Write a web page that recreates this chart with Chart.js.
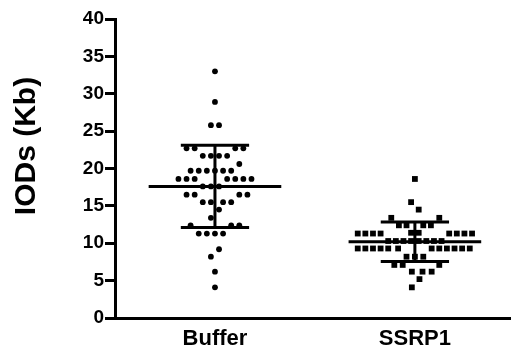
<!DOCTYPE html>
<html>
<head>
<meta charset="utf-8">
<script src="https://cdn.jsdelivr.net/npm/chart.js@4"></script>
<style>
  html, body { margin: 0; padding: 0; background: #fff; }
  #wrap { width: 515px; height: 351px; position: relative; }
</style>
</head>
<body>
<div id="wrap"><canvas id="dotChart"></canvas></div>
<script>
const categories = ["Buffer", "SSRP1"];
const yTicks = [0, 5, 10, 15, 20, 25, 30, 35, 40];

// IOD values, with their horizontal slot in the dot column
const bufferValues = [
  33.0, 28.9, 25.8, 25.8,
  22.7, 22.7, 22.7, 22.7,
  21.7, 21.7, 21.7, 21.7,
  20.6,
  19.7, 19.7, 19.7, 19.7, 19.7, 19.7,
  18.6, 18.6, 18.6, 18.6, 18.6, 18.6, 18.6,
  17.6, 17.6, 17.6,
  16.5, 16.5, 16.5, 16.5,
  15.5, 15.5, 15.5, 15.5,
  14.5, 13.4,
  12.4, 12.4, 12.4,
  11.3, 11.3, 11.3, 11.3,
  9.2, 8.2, 6.2, 4.1
];
const bufferSlots = [
  0, 0, -0.5, 0.5,
  -3.5, -2.5, 2.5, 3.5,
  -1.5, -0.5, 0.5, 1.5,
  3,
  -3, -2, -1, 0, 1, 2,
  -4.5, -3.5, -2.5, 1.5, 2.5, 3.5, 4.5,
  -1.5, -0.5, 0.5,
  -3.5, -2.5, 3, 4,
  -1.5, -0.5, 1, 2,
  0.5, -0.5,
  -3, 2, 3,
  -2, -1, 0, 1,
  0.5, -0.5, 0, 0
];

const ssrpValues = [
  18.6, 15.5, 14.5, 13.4, 13.4,
  12.4, 12.4, 12.4, 12.4,
  11.3, 11.3, 11.3, 11.3, 11.4, 11.4, 11.3, 11.3, 11.3, 11.3,
  10.3, 10.3, 10.3, 10.3, 10.3, 10.3, 10.3, 10.3,
  9.3, 9.3, 9.3, 9.3, 9.3, 9.3, 9.3, 9.3, 9.3, 9.3, 9.3, 9.3,
  8.2, 8.2, 8.2,
  7.1, 7.1, 7.1,
  6.2, 6.2, 6.2,
  5.2, 4.1
];
const ssrpSlots = [
  0, -0.5, 0.5, -3.1, 3.2,
  -2.1, -1.1, 1.1, 2.1,
  -7.5, -6.5, -5.5, -4.5, -0.5, 0.5, 4.5, 5.5, 6.5, 7.5,
  -3.5, -2.5, -1.5, -0.5, 0.5, 1.5, 2.5, 3.5,
  -7.5, -6.5, -5.5, -4.5, -3.5, -2.2, 2.2, 3.2, 4.2, 5.2, 6.2, 7.2,
  -1.1, 0, 1.1,
  -2.7, -1.6, 3.2,
  -0.4, 1, 2.2,
  0.6, -0.4
];

const groupMeans = [17.6, 10.2];
const groupSD = [5.5, 2.63];

// layout (x scale runs in plot pixels)
const X_MAX = 400;
const CENTERS = [101, 303];
const SLOT_W = [8.2, 7.7];
const MEAN_HALF = 67;
const CAP_HALF = 34.5;
const FONT = "'Liberation Sans', Arial, sans-serif";

function dotPoints(values, slots, group) {
  return values.map((v, i) => ({ x: CENTERS[group] + slots[i] * SLOT_W[group], y: v }));
}

function summarySegments() {
  const pts = [];
  groupMeans.forEach((m, g) => {
    const c = CENTERS[g];
    const hi = m + groupSD[g];
    const lo = m - groupSD[g];
    pts.push({ x: c - MEAN_HALF, y: m }, { x: c + MEAN_HALF, y: m }, { x: c, y: null });
    pts.push({ x: c, y: hi }, { x: c, y: lo }, { x: c, y: null });
    pts.push({ x: c - CAP_HALF, y: hi }, { x: c + CAP_HALF, y: hi }, { x: c, y: null });
    pts.push({ x: c - CAP_HALF, y: lo }, { x: c + CAP_HALF, y: lo }, { x: c, y: null });
  });
  return pts;
}

const yTitlePlugin = {
  id: "yTitle",
  afterDraw(chart) {
    const ctx = chart.ctx;
    ctx.save();
    ctx.translate(27, 146);
    ctx.rotate(-Math.PI / 2);
    ctx.fillStyle = "#000";
    ctx.font = "bold 30px " + FONT;
    ctx.textAlign = "center";
    ctx.textBaseline = "middle";
    ctx.fillText("IODs (Kb)", 0, 0);
    ctx.restore();
  }
};

new Chart(document.getElementById("dotChart"), {
  type: "scatter",
  data: {
    datasets: [
      {
        label: categories[0],
        data: dotPoints(bufferValues, bufferSlots, 0),
        pointStyle: "circle",
        pointRadius: 2.9,
        backgroundColor: "#000",
        borderWidth: 0
      },
      {
        label: categories[1],
        data: dotPoints(ssrpValues, ssrpSlots, 1),
        pointStyle: "rect",
        pointRadius: 4.1,
        backgroundColor: "#000",
        borderWidth: 0
      },
      {
        label: "Mean ± SD",
        data: summarySegments(),
        showLine: true,
        spanGaps: false,
        borderColor: "#000",
        borderWidth: 3,
        pointRadius: 0
      }
    ]
  },
  options: {
    responsive: true,
    maintainAspectRatio: false,
    animation: false,
    layout: { padding: { top: 19, right: 0, left: 0, bottom: 0 } },
    plugins: {
      legend: { display: false },
      tooltip: { enabled: false }
    },
    scales: {
      x: {
        type: "linear",
        min: 0,
        max: X_MAX,
        afterFit: (s) => { s.height = 33; },
        afterBuildTicks: (s) => { s.ticks = CENTERS.map((v) => ({ value: v })); },
        grid: { display: false },
        border: { display: true, color: "#000", width: 3 },
        ticks: {
          autoSkip: false,
          maxRotation: 0,
          padding: 0,
          color: "#000",
          font: { family: FONT, size: 22, weight: "bold" },
          callback: (v) => categories[CENTERS.indexOf(v)]
        }
      },
      y: {
        min: 0,
        max: 40,
        afterFit: (s) => { s.width = 115; },
        afterBuildTicks: (s) => { s.ticks = yTicks.map((v) => ({ value: v })); },
        grid: {
          drawOnChartArea: false,
          drawTicks: true,
          tickLength: 10,
          lineWidth: 3,
          color: "#000"
        },
        border: { display: true, color: "#000", width: 3 },
        ticks: {
          padding: 1,
          color: "#000",
          font: { family: FONT, size: 19, weight: "bold" }
        }
      }
    }
  },
  plugins: [yTitlePlugin]
});
</script>
</body>
</html>
